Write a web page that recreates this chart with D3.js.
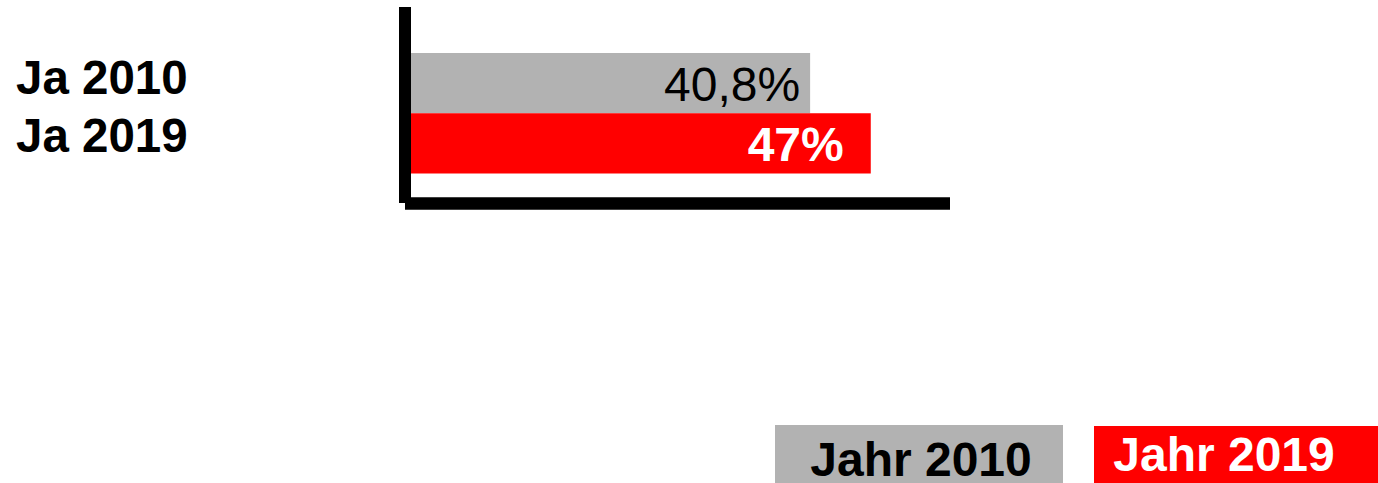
<!DOCTYPE html>
<html>
<head>
<meta charset="utf-8">
<script src="https://cdn.jsdelivr.net/npm/d3@7"></script>
<style>
  body { margin: 0; background: #fff; }
  svg { display: block; font-family: "Liberation Sans", Arial, sans-serif; }
</style>
</head>
<body>
<script>
"use strict";

// data
var categories = ['Ja 2010', 'Ja 2019'];
var values = [40.8, 47];
var value_labels = ['40,8%', '47%'];
var series = ['Jahr 2010', 'Jahr 2019'];
var colors = ['#b2b2b2', '#ff0000'];
var label_colors = ['#000000', '#ffffff'];

var width = 1378,
  height = 483;

var svg = d3.select('body').append('svg')
  .attr('width', width)
  .attr('height', height);

// scales
var x = d3.scaleLinear()
  .domain([0, 55.1])
  .range([411, 950]);

var y = d3.scaleBand()
  .domain(categories)
  .range([53, 173.5])
  .padding(0);

var rows = categories.map((c, i) => ({
  cat: c, value: values[i], label: value_labels[i],
  color: colors[i], text: label_colors[i], bold: i === 1
}));

// bars
svg.append('g').selectAll('rect')
  .data(rows)
  .enter().append('rect')
    .attr('x', x(0))
    .attr('y', d => y(d.cat))
    .attr('width', d => x(d.value) - x(0))
    .attr('height', y.bandwidth())
    .attr('fill', d => d.color);

// value labels inside bars
svg.append('g').selectAll('text')
  .data(rows)
  .enter().append('text')
    .attr('x', d => x(d.value) - (d.bold ? 27 : 10))
    .attr('y', d => y(d.cat) + y.bandwidth() / 2 + 18)
    .attr('text-anchor', 'end')
    .attr('font-size', 48)
    .attr('font-weight', d => d.bold ? 'bold' : 'normal')
    .attr('fill', d => d.text)
    .text(d => d.label);

// category labels (left)
svg.append('g').selectAll('text')
  .data(rows)
  .enter().append('text')
    .attr('x', 16)
    .attr('y', (d, i) => y(d.cat) + y.bandwidth() / 2 + 11 - i * 2)
    .attr('font-size', 47.5)
    .attr('font-weight', 'bold')
    .attr('fill', '#000')
    .text(d => d.cat);

// axes: thick black lines
svg.append('line')
  .attr('x1', 405).attr('x2', 405)
  .attr('y1', 7).attr('y2', 203)
  .attr('stroke', '#000')
  .attr('stroke-width', 12);

svg.append('line')
  .attr('x1', 405).attr('x2', x.range()[1])
  .attr('y1', 203.5).attr('y2', 203.5)
  .attr('stroke', '#000')
  .attr('stroke-width', 12.5);

// legend
var legend_boxes = [
  {x: 775, w: 288, tx: 921},
  {x: 1094, w: 290, tx: 1224}
];

var legend = svg.append('g').selectAll('g')
  .data(series)
  .enter().append('g');

legend.append('rect')
  .attr('x', (d, i) => legend_boxes[i].x)
  .attr('y', (d, i) => i === 0 ? 425 : 426)
  .attr('width', (d, i) => legend_boxes[i].w)
  .attr('height', 60)
  .attr('fill', (d, i) => colors[i]);

legend.append('text')
  .attr('x', (d, i) => legend_boxes[i].tx)
  .attr('y', (d, i) => i === 0 ? 476 : 471)
  .attr('text-anchor', 'middle')
  .attr('font-size', 48)
  .attr('font-weight', 'bold')
  .attr('fill', (d, i) => label_colors[i])
  .text(d => d);
</script>
</body>
</html>
